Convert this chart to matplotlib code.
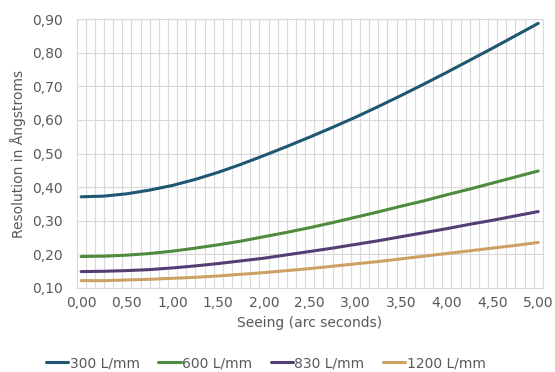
import matplotlib
matplotlib.use('Agg')
import matplotlib.pyplot as plt
import numpy as np

# data (seeing in arc seconds -> resolution in Angstroms)
seeing = [0.0, 0.25, 0.5, 0.75, 1.0, 1.25, 1.5, 1.75, 2.0, 2.25, 2.5,
          2.75, 3.0, 3.25, 3.5, 3.75, 4.0, 4.25, 4.5, 4.75, 5.0]
res_300 = [0.371, 0.373, 0.380, 0.391, 0.405, 0.423, 0.444, 0.468, 0.494, 0.521, 0.549,
           0.578, 0.608, 0.640, 0.673, 0.707, 0.742, 0.778, 0.814, 0.851, 0.888]
res_600 = [0.193, 0.194, 0.197, 0.202, 0.209, 0.218, 0.228, 0.239, 0.252, 0.265, 0.279,
           0.294, 0.310, 0.326, 0.343, 0.359, 0.377, 0.394, 0.412, 0.430, 0.448]
res_830 = [0.148, 0.149, 0.151, 0.154, 0.159, 0.165, 0.172, 0.180, 0.188, 0.198, 0.208,
           0.218, 0.229, 0.240, 0.252, 0.264, 0.276, 0.289, 0.301, 0.314, 0.327]
res_1200 = [0.121, 0.121, 0.123, 0.125, 0.128, 0.131, 0.135, 0.140, 0.145, 0.151, 0.157,
            0.164, 0.171, 0.178, 0.186, 0.194, 0.202, 0.210, 0.218, 0.226, 0.235]
labels = ["300 L/mm", "600 L/mm", "830 L/mm", "1200 L/mm"]
xticks = [0.0, 0.5, 1.0, 1.5, 2.0, 2.5, 3.0, 3.5, 4.0, 4.5, 5.0]
yticks = [0.1, 0.2, 0.3, 0.4, 0.5, 0.6, 0.7, 0.8, 0.9]

COLORS = ["#1F5672", "#4E8B3D", "#533F73", "#CDA164"]
GRID = "#D9D9D9"
TXT = "#595959"

fig = plt.figure(figsize=(5.55, 3.72), dpi=100)
fig.patch.set_facecolor("white")
ax = fig.add_axes([0.138, 0.2266, 0.840, 0.7214])

for ys, c, lab in zip([res_300, res_600, res_830, res_1200], COLORS, labels):
    ax.plot(seeing, ys, color=c, lw=2.2, label=lab, solid_capstyle='round', zorder=3)

# category style axis: half a step padding each side, gridline every 0.1
ax.set_xlim(-0.05, 5.05)
ax.set_ylim(0.1, 0.9)
ax.set_xticks(xticks)
ax.set_xticklabels([f"{v:.2f}".replace(".", ",") for v in xticks])
ax.set_yticks(yticks)
ax.set_yticklabels([f"{v:.2f}".replace(".", ",") for v in yticks])
ax.set_xticks(np.arange(-0.05, 5.06, 0.1), minor=True)
ax.grid(True, which='minor', axis='x', color=GRID, lw=0.8, zorder=0)
ax.grid(True, which='major', axis='y', color=GRID, lw=0.8, zorder=0)
ax.tick_params(which='both', length=0)
ax.tick_params(axis='both', labelsize=10, labelcolor=TXT)
ax.tick_params(axis='y', pad=10)
ax.tick_params(axis='x', pad=6)
for s in ax.spines.values():
    s.set_color(GRID)
    s.set_linewidth(0.8)

ax.set_xlabel("Seeing (arc seconds)", fontsize=10, color=TXT, labelpad=4)
ax.set_ylabel("Resolution in Ångstroms", fontsize=10, color=TXT, labelpad=4)

leg = fig.legend(loc='center', bbox_to_anchor=(0.479, 0.024), ncol=4, frameon=False,
                 fontsize=10, handlelength=1.6, handletextpad=0.1, columnspacing=1.35)
for t in leg.get_texts():
    t.set_color(TXT)

fig.savefig("out.png", dpi=100, facecolor="white")
plt.close()
